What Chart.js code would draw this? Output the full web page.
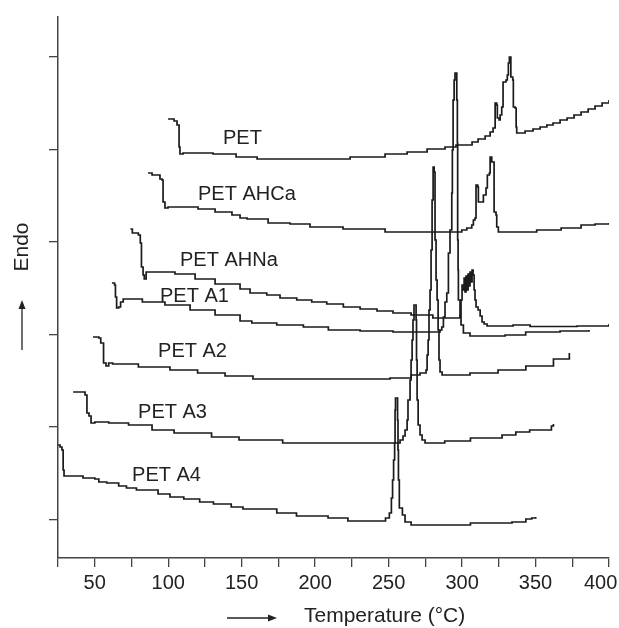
<!DOCTYPE html>
<html>
<head>
<meta charset="utf-8">
<title>DSC curves</title>
<script src="https://cdn.jsdelivr.net/npm/chart.js@4.4.0/dist/chart.umd.min.js"></script>
<style>
    html, body { margin: 0; padding: 0; background: #fff; }
    #wrap { width: 619px; height: 628px; }
</style>
</head>
<body>
<div id="wrap"><canvas id="myChart" width="619" height="628"></canvas></div>
<script>
// curve names, top to bottom
const seriesNames = ['PET', 'PET AHCa', 'PET AHNa', 'PET A1', 'PET A2', 'PET A3', 'PET A4'];

// temperature (°C) where the trace changes level, and the new level (arbitrary heat-flow units)
const tempPET = [99.9, 104.0, 106.0, 107.4, 108.0, 110.1, 130.5, 146.2, 160.5, 223.8, 247.6, 262.6, 276.2, 288.4, 295.9, 306.8, 310.9, 315.7, 319.1, 321.1, 322.5, 323.6, 324.0, 325.2, 325.9, 327.0, 327.9, 329.9, 330.8, 331.5, 332.2, 333.2, 334.5, 334.9, 336.1, 336.8, 337.2, 342.9, 348.3, 353.1, 357.7, 361.9, 366.7, 371.5, 376.2, 381.0, 385.8, 390.5, 395.3, 400];
const flowPET = [43.9, 43.7, 43.3, 41.1, 40.4, 40.5, 40.4, 40.1, 39.9, 40.1, 40.4, 40.6, 40.9, 41.1, 41.3, 41.6, 41.9, 42.2, 42.6, 43.0, 45.5, 45.3, 44.0, 43.8, 44.3, 45.1, 47.6, 47.8, 48.3, 49.5, 50.1, 48.1, 47.8, 45.1, 45.0, 43.1, 42.5, 42.7, 42.9, 43.1, 43.3, 43.5, 43.8, 44.0, 44.3, 44.6, 44.9, 45.2, 45.5, 45.8];

const tempAHCa = [86.3, 89.0, 94.4, 95.8, 96.5, 97.8, 99.9, 120.3, 131.9, 143.4, 148.9, 153.7, 168.0, 182.9, 196.5, 219.0, 247.6, 299.8, 303.2, 306.6, 307.7, 308.8, 309.5, 310.7, 311.1, 314.5, 316.3, 317.2, 318.6, 319.1, 320.2, 321.8, 323.1, 323.6, 324.7, 350.8, 367.4, 381.0, 390.5, 400];
const flowAHCa = [38.5, 38.3, 37.9, 37.8, 35.6, 35.0, 35.1, 34.9, 34.6, 34.3, 34.0, 33.9, 33.5, 33.4, 33.1, 32.9, 32.6, 32.8, 33.0, 33.3, 33.8, 34.0, 37.3, 37.1, 35.6, 36.3, 37.0, 38.3, 38.5, 40.1, 39.6, 34.6, 34.3, 33.1, 32.6, 32.8, 33.0, 33.3, 33.4, 33.5];

const tempAHNa = [74.3, 75.6, 79.7, 81.0, 81.8, 82.9, 83.7, 85.0, 104.6, 118.3, 131.9, 148.9, 155.7, 167.1, 176.1, 187.5, 197.7, 207.9, 219.2, 230.6, 242.1, 253.0, 265.3, 280.1, 298.6, 299.3, 300.0, 300.7, 301.4, 302.0, 302.7, 303.4, 304.1, 304.8, 305.4, 306.1, 306.8, 307.5, 308.2, 308.8, 309.5, 310.9, 312.3, 313.6, 315.0, 317.0, 334.7, 346.3, 378.3, 400];
const flowAHNa = [32.9, 32.5, 32.3, 31.5, 29.1, 28.3, 27.9, 28.6, 28.4, 27.9, 27.4, 26.9, 26.5, 26.3, 26.0, 25.8, 25.6, 25.4, 25.1, 24.9, 24.7, 24.5, 24.3, 24.0, 24.2, 25.8, 27.3, 26.8, 28.0, 26.6, 28.2, 26.8, 28.4, 27.2, 28.6, 27.6, 28.8, 28.3, 26.8, 25.8, 25.1, 24.8, 24.2, 23.6, 23.4, 23.2, 23.3, 23.15, 23.2, 23.4];

const tempA1 = [61.7, 63.5, 64.1, 64.9, 66.3, 67.6, 69.4, 82.4, 97.8, 114.9, 131.9, 148.9, 156.9, 173.9, 192.0, 209.0, 230.6, 253.0, 285.0, 286.2, 287.3, 288.4, 289.6, 290.7, 291.8, 293.0, 293.4, 293.9, 294.6, 295.2, 296.4, 296.8, 297.0, 297.3, 297.5, 298.6, 299.3, 300.9, 305.4, 329.3, 343.3, 366.7, 386.4];
const flowA1 = [27.5, 27.3, 26.1, 25.0, 25.1, 25.6, 25.9, 25.6, 25.3, 24.8, 24.3, 23.7, 23.5, 23.3, 23.1, 22.8, 22.7, 22.6, 22.8, 23.1, 24.1, 25.6, 26.5, 30.5, 32.8, 36.5, 40.8, 45.8, 47.8, 48.5, 45.8, 41.5, 31.8, 28.8, 25.8, 24.1, 23.3, 22.5, 22.2, 22.3, 22.6, 22.7, 22.8];

const tempA2 = [48.8, 52.8, 54.1, 56.0, 57.7, 59.5, 62.2, 79.7, 101.2, 120.0, 138.7, 157.7, 251.0, 265.3, 271.4, 275.5, 276.2, 276.9, 277.5, 278.2, 278.9, 279.6, 280.3, 281.0, 281.6, 282.3, 283.0, 283.7, 284.3, 285.0, 286.4, 305.4, 324.5, 343.4, 362.2, 373.0];
const flowA2 = [22.1, 22.0, 21.5, 19.5, 19.2, 19.5, 19.4, 19.1, 18.8, 18.5, 18.2, 17.9, 18.0, 18.3, 18.5, 18.8, 20.3, 21.8, 24.8, 26.8, 30.8, 35.8, 39.1, 38.6, 31.8, 27.8, 25.8, 22.8, 19.8, 18.6, 18.3, 18.5, 18.8, 19.2, 19.9, 20.5];

const tempA3 = [35.3, 43.4, 44.7, 46.1, 47.5, 50.1, 59.5, 73.0, 89.0, 104.0, 129.5, 148.2, 177.9, 257.8, 259.8, 261.2, 262.6, 263.2, 264.6, 265.3, 266.0, 266.6, 267.3, 268.7, 269.0, 269.4, 270.1, 271.4, 272.8, 274.8, 288.2, 305.7, 327.2, 336.6, 346.0, 360.8, 362.2];
const flowA3 = [16.6, 16.3, 14.5, 14.2, 13.5, 13.6, 13.5, 13.3, 12.8, 12.5, 12.1, 11.8, 11.5, 11.8, 12.2, 12.8, 13.8, 15.8, 17.8, 19.8, 21.8, 23.8, 25.3, 23.8, 19.8, 15.8, 13.3, 12.3, 11.8, 11.5, 11.7, 12.0, 12.3, 12.6, 12.8, 13.2, 13.4];

const tempA4 = [25.1, 26.4, 27.7, 28.5, 29.1, 42.0, 50.1, 52.8, 58.2, 66.3, 71.6, 78.4, 93.1, 101.2, 110.6, 121.4, 130.8, 142.9, 150.9, 173.9, 187.3, 208.8, 222.3, 247.9, 250.5, 251.9, 252.7, 253.4, 254.1, 254.4, 254.7, 256.1, 256.4, 256.7, 257.3, 259.4, 261.2, 265.3, 305.7, 334.0, 343.4, 347.4, 350.1];
const flowA4 = [11.3, 11.1, 10.8, 8.8, 8.2, 8.0, 7.9, 7.6, 7.5, 7.2, 7.0, 6.8, 6.4, 6.1, 5.9, 5.6, 5.4, 5.1, 4.9, 4.5, 4.2, 4.0, 3.7, 4.0, 4.5, 6.0, 7.8, 9.8, 11.5, 14.8, 16.0, 13.8, 10.8, 7.8, 5.0, 4.3, 3.6, 3.3, 3.5, 3.6, 3.9, 4.0, 4.1];

// where each curve name sits (left edge, vertical middle)
const labelTemp = [137.3, 120.3, 108.0, 94.4, 93.1, 79.5, 75.4];
const labelFlow = [42.0, 36.4, 29.8, 26.2, 20.7, 14.6, 8.3];

// axes
const xTicks = [25, 50, 75, 100, 125, 150, 175, 200, 225, 250, 275, 300, 325, 350, 375, 400];
const xLabels = [50, 100, 150, 200, 250, 300, 350, 400];
const yTicks = [3.8, 13.1, 22.3, 31.6, 40.8, 50.1];

const temps = [tempPET, tempAHCa, tempAHNa, tempA1, tempA2, tempA3, tempA4];
const flows = [flowPET, flowAHCa, flowAHNa, flowA1, flowA2, flowA3, flowA4];

const fontFamily = '"Liberation Sans", Arial, Helvetica, sans-serif';
const ink = '#222';

const datasets = seriesNames.map(function(name, i) {
    return {
        label: name,
        data: temps[i].map((t, j) => ({ x: t, y: flows[i][j] })),
        showLine: true,
        stepped: 'before',
        borderColor: '#1b1b1b',
        borderWidth: 1.7,
        pointRadius: 0,
        fill: false
    };
});

// curve names + axis captions with their arrows
const captions = {
    id: 'captions',
    afterDatasetsDraw(chart) {
        const ctx = chart.ctx;
        const x = chart.scales.x;
        const y = chart.scales.y;
        ctx.save();
        ctx.fillStyle = ink;
        ctx.strokeStyle = ink;
        ctx.textBaseline = 'middle';
        ctx.textAlign = 'left';
        ctx.font = '20px ' + fontFamily;
        for (let i = 0; i < seriesNames.length; i++) {
            ctx.fillText(seriesNames[i], x.getPixelForValue(labelTemp[i]), y.getPixelForValue(labelFlow[i]));
        }

        // x caption
        ctx.font = '21px ' + fontFamily;
        ctx.fillText('Temperature (°C)', 304, 616);
        drawArrow(ctx, 227, 618, 277, 618);

        // y caption
        ctx.save();
        ctx.translate(22, 247);
        ctx.rotate(-Math.PI / 2);
        ctx.textAlign = 'center';
        ctx.fillText('Endo', 0, 0);
        ctx.restore();
        drawArrow(ctx, 22, 350, 22, 300);
        ctx.restore();
    }
};

function drawArrow(ctx, x1, y1, x2, y2) {
    const ang = Math.atan2(y2 - y1, x2 - x1);
    const len = 9, half = 3.5;
    ctx.lineWidth = 1.3;
    ctx.beginPath();
    ctx.moveTo(x1, y1);
    ctx.lineTo(x2 - Math.cos(ang) * len * 0.8, y2 - Math.sin(ang) * len * 0.8);
    ctx.stroke();
    ctx.beginPath();
    ctx.moveTo(x2, y2);
    ctx.lineTo(x2 - Math.cos(ang) * len - Math.sin(ang) * half, y2 - Math.sin(ang) * len + Math.cos(ang) * half);
    ctx.lineTo(x2 - Math.cos(ang) * len + Math.sin(ang) * half, y2 - Math.sin(ang) * len - Math.cos(ang) * half);
    ctx.closePath();
    ctx.fill();
}

var ctx = document.getElementById('myChart').getContext('2d');
var chart = new Chart(ctx, {
    type: 'scatter',
    data: { datasets: datasets },
    options: {
        responsive: false,
        animation: false,
        devicePixelRatio: 1,
        layout: { padding: { left: 46, right: 10, top: 17, bottom: 30 } },
        plugins: {
            legend: { display: false },
            tooltip: { enabled: false }
        },
        scales: {
            x: {
                type: 'linear',
                min: 25,
                max: 400,
                afterBuildTicks: s => { s.ticks = xTicks.map(v => ({ value: v })); },
                afterFit: s => { s.height = 40; s.paddingLeft = 0; s.paddingRight = 0; },
                grid: { drawOnChartArea: false, drawTicks: true, tickLength: 9, color: '#444', lineWidth: 1.3 },
                border: { color: '#444', width: 1.5 },
                ticks: {
                    autoSkip: false,
                    maxRotation: 0,
                    padding: 4,
                    color: ink,
                    font: { family: fontFamily, size: 20 },
                    // the last label is nudged left so it stays inside the picture
                    callback: v => xLabels.includes(v) ? (v === 400 ? '400   ' : String(v)) : ''
                }
            },
            y: {
                type: 'linear',
                min: 0,
                max: 54.1,
                afterBuildTicks: s => { s.ticks = yTicks.map(v => ({ value: v })); },
                afterFit: s => { s.width = 12; s.paddingTop = 0; s.paddingBottom = 0; },
                grid: { drawOnChartArea: false, drawTicks: true, tickLength: 9, color: '#444', lineWidth: 1.3 },
                border: { color: '#444', width: 1.5 },
                ticks: { padding: 0, callback: () => '' }
            }
        }
    },
    plugins: [captions]
});
</script>
</body>
</html>
